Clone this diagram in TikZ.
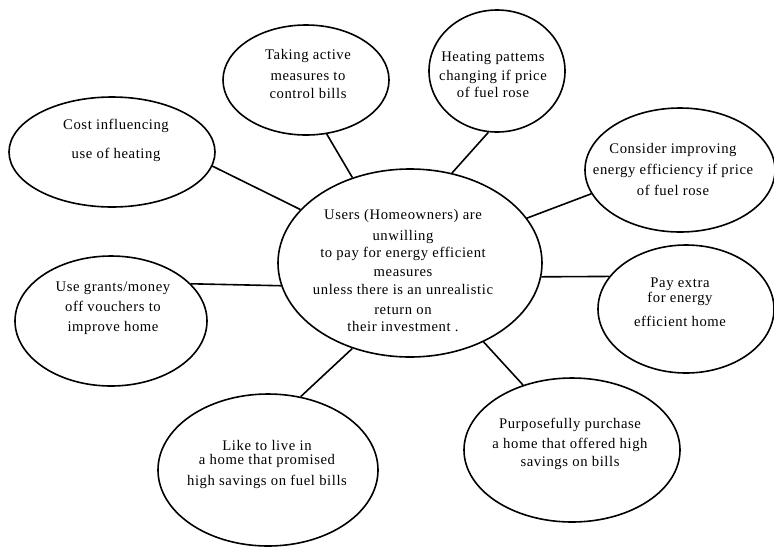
\documentclass[tikz,border=0pt]{standalone}
\usepackage{fontspec}
\setmainfont[LetterSpace=4]{Liberation Serif}
\usetikzlibrary{shapes.geometric}
\begin{document}
\begin{tikzpicture}[x=0.75pt,y=-0.75pt,
  bubble/.style 2 args={draw,ellipse,line width=1.2pt,inner sep=0pt,
    minimum width=#1*1.5pt,minimum height=#2*1.5pt},
  btext/.style={align=center,inner sep=0pt,font=\fontsize{11}{12}\selectfont},
  link/.style={line width=1.2pt}]
\useasboundingbox (0,0) rectangle (774,547);

% central idea
\node[bubble={132}{94}] (hub) at (410,263) {};
\node[btext] (hubtxt) at (403,271) {Users (Homeowners) are\\[3.75pt]
  unwilling\\[0.75pt] to pay for energy efficient\\[2.25pt] measures\\[1.5pt]
  unless there is an unrealistic\\[3pt] return on\\[0.75pt] their investment .};

% surrounding bubbles
\node[bubble={83}{55}] (active) at (306,80) {};
\node[btext] (activetxt) at (308,74) {Taking active\\[3.75pt] measures to\\[1.5pt] control bills};

\node[bubble={103}{55}] (cost) at (112,152) {};
\node[btext] (costtxt) at (116,140) {Cost influencing\\[9.75pt] use of heating};

\node[bubble={68}{61}] (pattern) at (497,71) {};
\node[btext] (patterntxt) at (493,75) {Heating pattems\\[2.25pt] changing if price\\[0.75pt] of fuel rose};

\node[bubble={95}{62}] (consider) at (680,170) {};
\node[btext] (considertxt) at (673,169) {Consider improving\\[3.75pt] energy efficiency if price\\[3.75pt] of fuel rose};

\node[bubble={88}{64}] (extra) at (686,309) {};
\node[btext] (extratxt) at (680,302) {Pay extra\\[-0.75pt] for energy\\[6pt] efficient home};

\node[bubble={96}{65}] (grants) at (111,321) {};
\node[btext] (grantstxt) at (113,308) {Use grants/money\\[3pt] off vouchers to\\[3pt] improve home};

\node[bubble={110}{76}] (live) at (268,470) {};
\node[btext] (livetxt) at (267,464) {Like to live in\\[-1.5pt] a home that promised\\[3.75pt] high savings on fuel bills};

\node[bubble={108}{72}] (buy) at (572,450) {};
\node[btext] (buytxt) at (570,444) {Purposefully purchase\\[3pt] a home that offered high\\[1.5pt] savings on bills};

% spokes
\draw[link] (cost.-8.4) -- (hub.154.2);
\draw[link] (active.-69.1) -- (hub.124.1);
\draw[link] (pattern.-98.7) -- (hub.65.2);
\draw[link] (consider.-165.4) -- (hub.21.8);
\draw[link] (extra.157.2) -- (hub.-6.6);
\draw[link] (grants.25.7) -- (hub.-170);
\draw[link] (live.66.9) -- (hub.-124.5);
\draw[link] (buy.127.4) -- (hub.-47.6);
\end{tikzpicture}
\end{document}
